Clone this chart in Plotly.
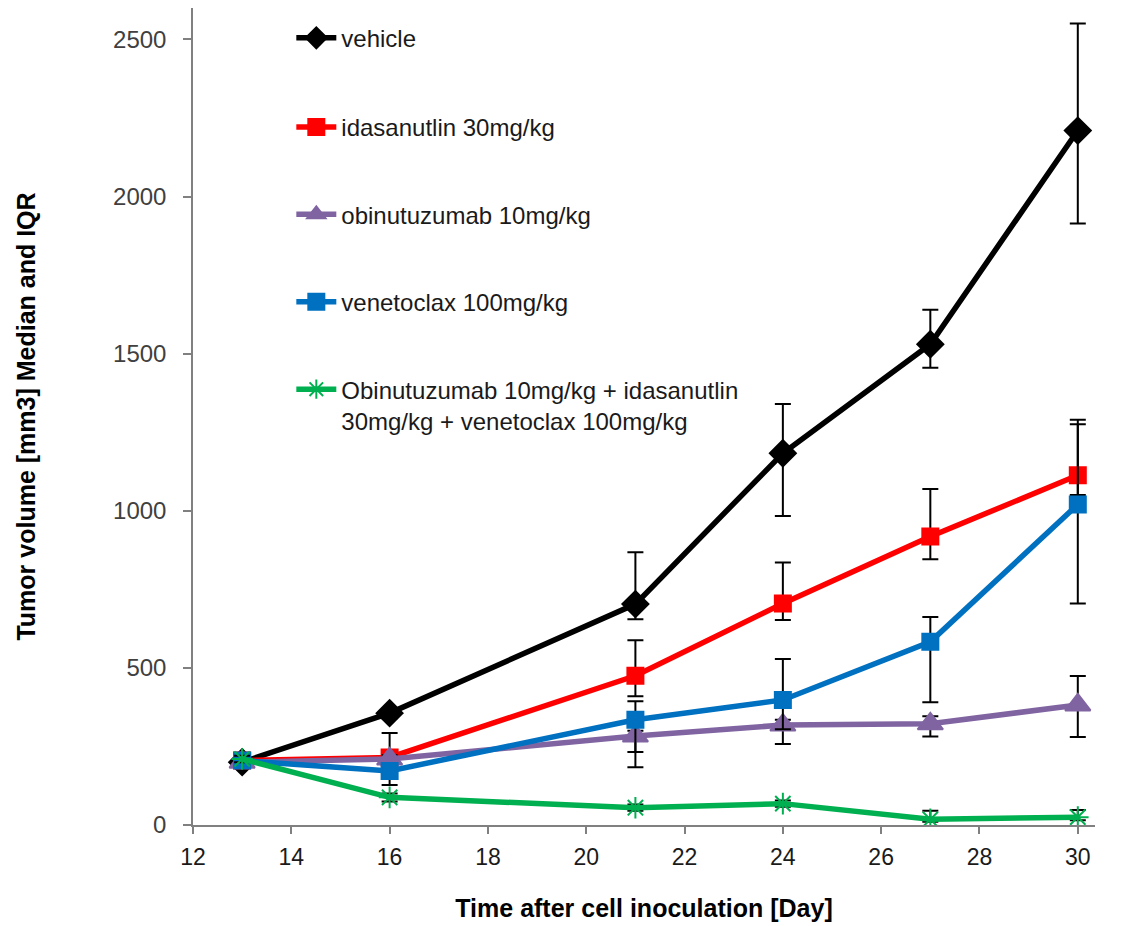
import plotly.graph_objects as go

days = [13, 16, 21, 24, 27, 30]

vehicle_med = [200, 356, 703, 1183, 1530, 2210]
vehicle_q1 = [190, 340, 655, 983, 1455, 1914]
vehicle_q3 = [212, 370, 868, 1340, 1640, 2551]

idasanutlin_med = [205, 215, 475, 705, 918, 1113]
idasanutlin_q1 = [195, 200, 410, 652, 846, 1050]
idasanutlin_q3 = [215, 293, 588, 835, 1069, 1290]

obinutuzumab_med = [200, 210, 283, 318, 322, 382]
obinutuzumab_q1 = [190, 200, 184, 258, 282, 280]
obinutuzumab_q3 = [212, 222, 300, 335, 346, 474]

venetoclax_med = [205, 172, 335, 398, 583, 1020]
venetoclax_q1 = [195, 127, 232, 305, 391, 705]
venetoclax_q3 = [215, 190, 394, 528, 662, 1275]

combo_med = [210, 88, 55, 68, 18, 25]
combo_q1 = [200, 75, 45, 58, 10, 15]
combo_q3 = [220, 100, 65, 78, 45, 48]

names = [
    "vehicle",
    "idasanutlin 30mg/kg",
    "obinutuzumab 10mg/kg",
    "venetoclax 100mg/kg",
    "Obinutuzumab 10mg/kg + idasanutlin<br>30mg/kg + venetoclax 100mg/kg",
]
colors = ["#000000", "#FF0000", "#8064A2", "#0070C0", "#00B050"]
symbols = ["diamond", "square", "triangle-up", "square", "asterisk-open"]
msizes = [20, 16, 22, 16, 18]
series = [
    (vehicle_med, vehicle_q1, vehicle_q3),
    (idasanutlin_med, idasanutlin_q1, idasanutlin_q3),
    (obinutuzumab_med, obinutuzumab_q1, obinutuzumab_q3),
    (venetoclax_med, venetoclax_q1, venetoclax_q3),
    (combo_med, combo_q1, combo_q3),
]
legend_ids = ["legend", "legend2", "legend3", "legend4", "legend5"]
legend_y = [0.963, 0.854, 0.747, 0.640, 0.514]

fig = go.Figure()
for i, (med, q1, q3) in enumerate(series):
    up = [b - a for a, b in zip(med, q3)]
    dn = [a - b for a, b in zip(med, q1)]
    fig.add_trace(go.Scatter(
        x=days, y=med, name=names[i], mode="lines+markers",
        line=dict(color=colors[i], width=5.5),
        marker=dict(symbol=symbols[i], size=msizes[i], color=colors[i],
                    line=dict(color=colors[i], width=2)),
        error_y=dict(type="data", symmetric=False, array=up, arrayminus=dn,
                     color="#000000", thickness=2, width=8),
        legend=legend_ids[i],
    ))

legfont = dict(family="Liberation Sans, Arial, sans-serif", size=24, color="#1a1a1a")
layout_legends = {}
for i, lid in enumerate(legend_ids):
    layout_legends[lid] = dict(
        x=0.109, y=legend_y[i], xanchor="left", yanchor="middle",
        bgcolor="rgba(0,0,0,0)", font=legfont, itemwidth=40,
        valign="top", tracegroupgap=0,
    )

sans = "Liberation Sans, Arial, sans-serif"
fig.update_layout(
    width=1125, height=926,
    margin=dict(l=185, r=38, t=0, b=109),
    paper_bgcolor="white", plot_bgcolor="white",
    showlegend=True,
    **layout_legends,
    xaxis=dict(
        range=[12, 30.35], tickmode="array", tickvals=list(range(12, 31, 2)),
        ticks="outside", ticklen=7, tickcolor="#808080", tickwidth=1.5,
        showline=True, linecolor="#808080", linewidth=1.5,
        showgrid=False, zeroline=False,
        tickfont=dict(family=sans, size=23, color="#1a1a1a"),
        ticklabelstandoff=4,
        title=dict(text="<b>Time after cell inoculation [Day]</b>",
                   font=dict(family=sans, size=25, color="#000000"), standoff=30),
    ),
    yaxis=dict(
        range=[0, 2600], tickmode="array", tickvals=[0, 500, 1000, 1500, 2000, 2500],
        ticks="outside", ticklen=8, tickcolor="#808080", tickwidth=1.5,
        showline=True, linecolor="#808080", linewidth=1.5,
        showgrid=False, zeroline=False,
        tickfont=dict(family=sans, size=24, color="#404040"),
        ticklabelstandoff=12,
        title=dict(text="<b>Tumor volume [mm3] Median and IQR</b>",
                   font=dict(family=sans, size=25, color="#000000"), standoff=70),
    ),
)

fig.write_html("out.html")
